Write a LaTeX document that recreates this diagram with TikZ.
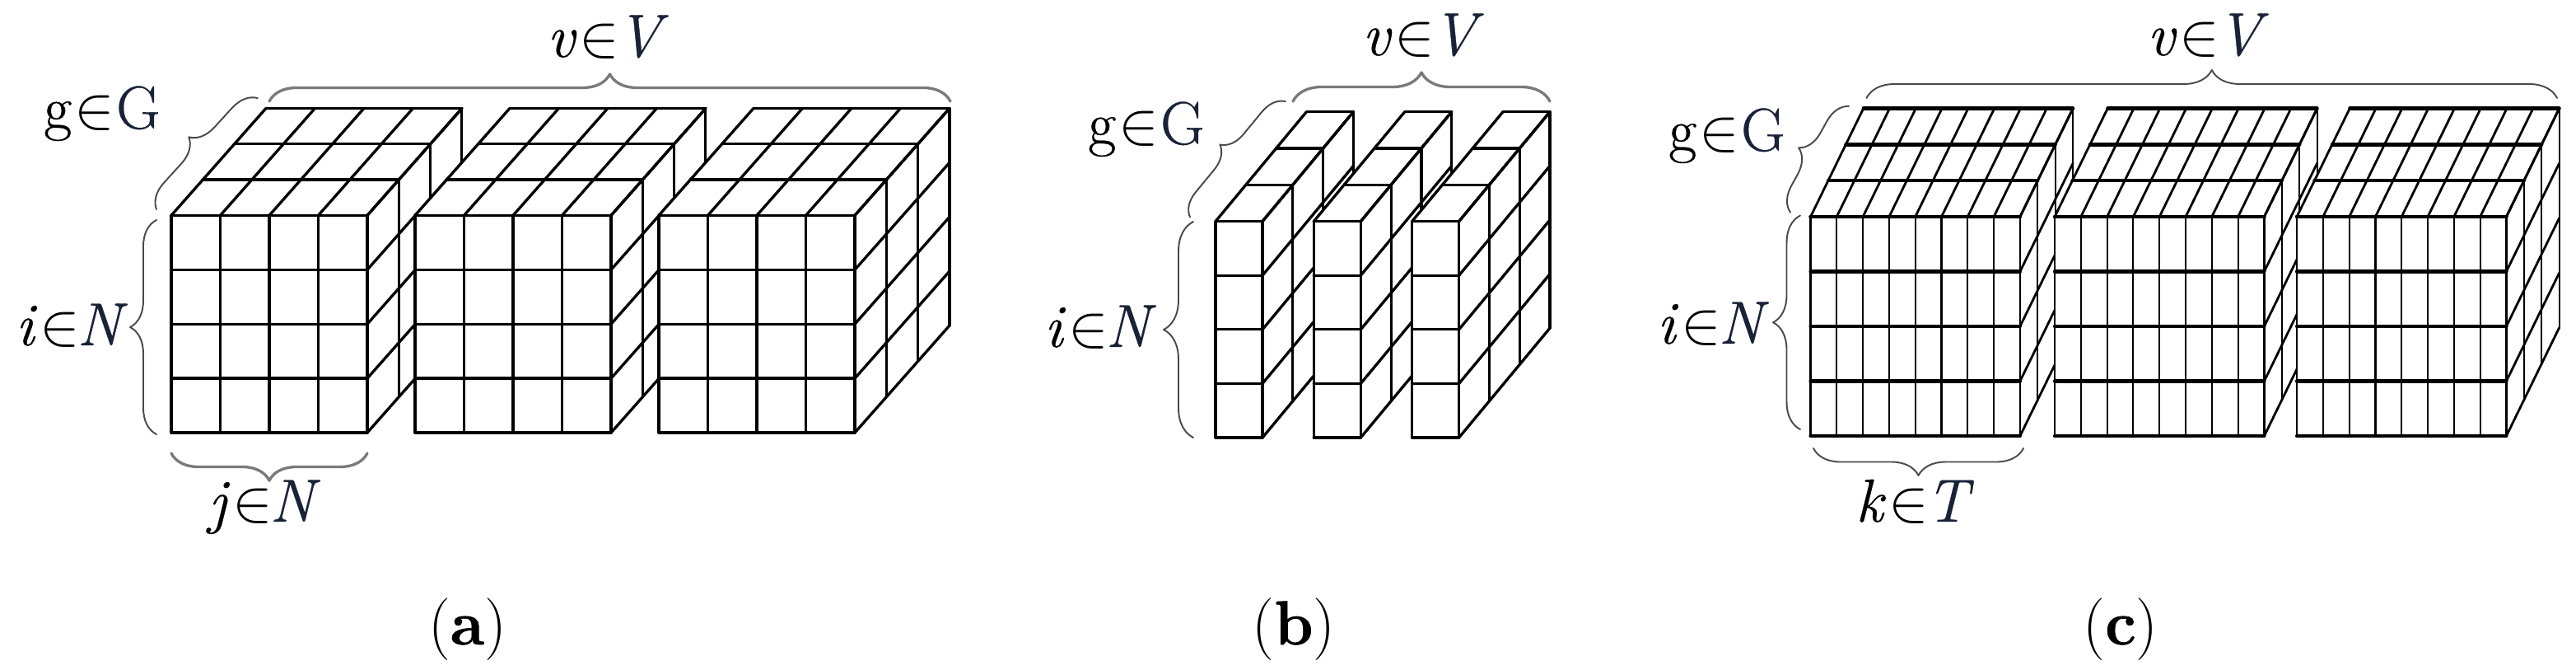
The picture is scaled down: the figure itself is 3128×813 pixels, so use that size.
\documentclass[tikz,border=0pt]{standalone}
\usepackage{fontspec}
\newfontfamily\labfont{Latin Modern Roman}[FakeBold=0.5]
\newfontfamily\capfont{Latin Modern Roman}[BoldFeatures={FakeBold=0.8}]
\usetikzlibrary{decorations.pathreplacing}
\definecolor{capnavy}{HTML}{1A2238}
\definecolor{bracegray}{HTML}{7A7A7A}
\definecolor{bracedark}{HTML}{4A4A4A}

% #1,#2 front-bottom-left; #3 cols, #4 col width; #5 rows, #6 row height; #7 layers, #8 dx, #9 dy
\newcommand{\cubeblock}[9]{%
  \pgfmathsetmacro\cbW{#3*#4}%
  \pgfmathsetmacro\cbH{#5*#6}%
  \pgfmathsetmacro\cbDX{#7*#8}%
  \pgfmathsetmacro\cbDY{#7*#9}%
  \fill[white] (#1,#2) -- ({#1+\cbW},#2) -- ({#1+\cbW+\cbDX},{#2-\cbDY})
     -- ({#1+\cbW+\cbDX},{#2-\cbH-\cbDY}) -- ({#1+\cbDX},{#2-\cbH-\cbDY}) -- (#1,{#2-\cbH}) -- cycle;
  \foreach \cbr in {0,...,#5} \draw[hline] (#1,{#2-\cbr*#6}) -- ({#1+\cbW},{#2-\cbr*#6});
  \foreach \cbc in {0,...,#3} \draw[vline] ({#1+\cbc*#4},#2) -- ({#1+\cbc*#4},{#2-\cbH});
  \foreach \cbl in {0,...,#7} \draw[hline] ({#1+\cbl*#8},{#2-\cbH-\cbl*#9}) -- ({#1+\cbW+\cbl*#8},{#2-\cbH-\cbl*#9});
  \foreach \cbc in {0,...,#3} \draw[dline] ({#1+\cbc*#4},{#2-\cbH}) -- ({#1+\cbc*#4+\cbDX},{#2-\cbH-\cbDY});
  \foreach \cbr in {0,...,#5} \draw[dline] ({#1+\cbW},{#2-\cbr*#6}) -- ({#1+\cbW+\cbDX},{#2-\cbr*#6-\cbDY});
  \foreach \cbl in {0,...,#7} \draw[vline] ({#1+\cbW+\cbl*#8},{#2-\cbl*#9}) -- ({#1+\cbW+\cbl*#8},{#2-\cbH-\cbl*#9});
}
\newcommand{\ilbl}[2]{\textit{#1}\kern1pt$\in$\kern-1pt\textcolor{capnavy}{\textit{#2}}}
\newcommand{\rlbl}[2]{#1\kern1pt$\in$\kern0.5pt\textcolor{capnavy}{#2}}

\begin{document}
\begin{tikzpicture}[x=0.01cm,y=-0.01cm,line cap=round,line join=round,
  hline/.style={line width=0.95pt},
  vline/.style={line width=0.9pt},
  dline/.style={line width=0.95pt},
  bracethick/.style={draw=bracegray,line width=0.95pt,decorate},
  bracethin/.style={draw=bracedark,line width=0.55pt,decorate},
  lab/.style={anchor=base,inner sep=0pt,font=\labfont\fontsize{21}{26}\selectfont},
  captxt/.style={anchor=base,inner sep=0pt,font=\capfont\fontsize{21.5}{26}\selectfont}]
\useasboundingbox (0,0) rectangle (3128,813);

% ---------------- panel (a)
\cubeblock{208}{525}{4}{59.5}{4}{65.9}{3}{38.3}{43.3}
\cubeblock{504}{525}{4}{59.5}{4}{65.9}{3}{38.3}{43.3}
\cubeblock{800}{525}{4}{59.5}{4}{65.9}{3}{38.3}{43.3}

\coordinate (av1) at (327,123);  \coordinate (av2) at (1154,123);
\coordinate (ag1) at (190,254);  \coordinate (ag2) at (313,119);
\coordinate (ai1) at (190,527);  \coordinate (ai2) at (190,267);
\coordinate (aj1) at (446,550);  \coordinate (aj2) at (208,550);
\draw[bracethick,decoration={brace,amplitude=0.33cm}] (av1) -- (av2);
\draw[bracethin,decoration={brace,amplitude=0.30cm}] (ag1) -- (ag2);
\draw[bracethin,decoration={brace,amplitude=0.32cm}] (ai1) -- (ai2);
\draw[bracethick,decoration={brace,amplitude=0.33cm}] (aj1) -- (aj2);
\node[lab] (la-v) at (738,69) {\ilbl{v}{V}};
\node[lab] (la-g) at (124,156) {\rlbl{g}{G}};
\node[lab] (la-i) at (87,419) {\ilbl{i}{N}};
\node[lab] (la-j) at (321,633) {\ilbl{j}{N}};
\node[captxt] (cap-a) at (567.5,782) {(\textbf{a})};

% ---------------- panel (b)
\cubeblock{1476}{531}{1}{57}{4}{65.6}{3}{36.8}{44.3}
\cubeblock{1595.3}{531}{1}{57}{4}{65.6}{3}{36.8}{44.3}
\cubeblock{1714.6}{531}{1}{57}{4}{65.6}{3}{36.8}{44.3}

\coordinate (bv1) at (1570,123); \coordinate (bv2) at (1882,123);
\coordinate (bg1) at (1445,263.5); \coordinate (bg2) at (1561,123);
\coordinate (bi1) at (1449,531); \coordinate (bi2) at (1449,269);
\draw[bracethick,decoration={brace,amplitude=0.35cm}] (bv1) -- (bv2);
\draw[bracethin,decoration={brace,amplitude=0.28cm}] (bg1) -- (bg2);
\draw[bracethin,decoration={brace,amplitude=0.36cm}] (bi1) -- (bi2);
\node[lab] (lb-v) at (1728,67) {\ilbl{v}{V}};
\node[lab] (lb-g) at (1392,175) {\rlbl{g}{G}};
\node[lab] (lb-i) at (1336,421) {\ilbl{i}{N}};
\node[captxt] (cap-b) at (1571,782) {(\textbf{b})};

% ---------------- panel (c)
\begin{scope}[hline/.style={line width=1.2pt},vline/.style={line width=0.6pt},dline/.style={line width=0.8pt}]
\cubeblock{2198.5}{529}{8}{31.8}{4}{66.5}{3}{21.4}{43.8}
\cubeblock{2495}{529}{8}{31.8}{4}{66.5}{3}{21.4}{43.8}
\cubeblock{2789}{529}{8}{31.8}{4}{66.5}{3}{21.4}{43.8}
\end{scope}

\coordinate (cv1) at (2266.5,119); \coordinate (cv2) at (3105,119);
\coordinate (cg1) at (2174,257.7); \coordinate (cg2) at (2245,128.8);
\coordinate (ci1) at (2186,521); \coordinate (ci2) at (2186,261.5);
\coordinate (ck1) at (2457,544); \coordinate (ck2) at (2202,544);
\draw[bracethin,decoration={brace,amplitude=0.34cm}] (cv1) -- (cv2);
\draw[bracethin,decoration={brace,amplitude=0.29cm}] (cg1) -- (cg2);
\draw[bracethin,decoration={brace,amplitude=0.33cm}] (ci1) -- (ci2);
\draw[bracethin,decoration={brace,amplitude=0.33cm}] (ck1) -- (ck2);
\node[lab] (lc-v) at (2681,67) {\ilbl{v}{V}};
\node[lab] (lc-g) at (2097,183) {\rlbl{g}{G}};
\node[lab] (lc-i) at (2080,417) {\ilbl{i}{N}};
\node[lab] (lc-k) at (2325,633) {\ilbl{k}{T}};
\node[captxt] (cap-c) at (2575,782) {(\textbf{c})};
\end{tikzpicture}
\end{document}
